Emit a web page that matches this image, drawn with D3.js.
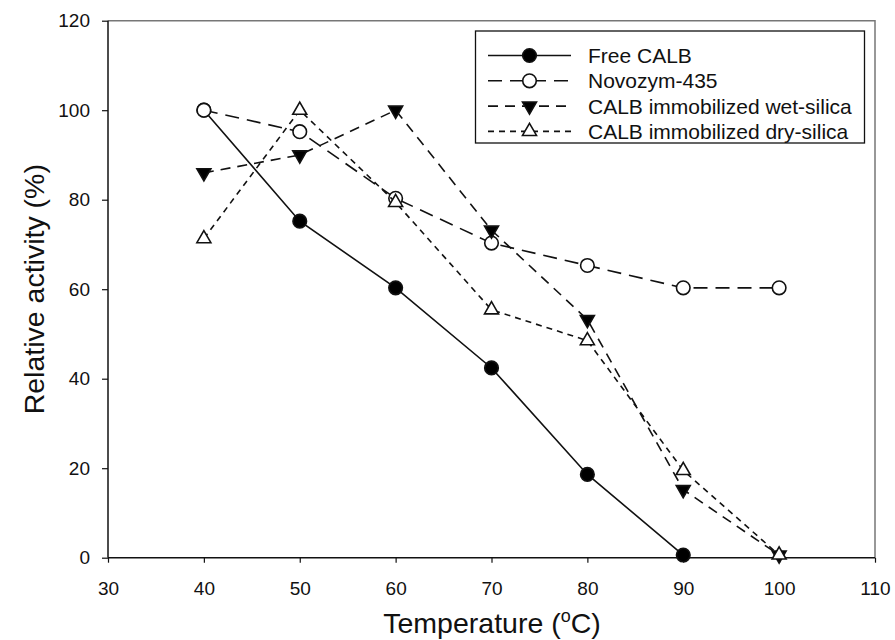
<!DOCTYPE html>
<html>
<head>
<meta charset="utf-8">
<script src="https://cdn.jsdelivr.net/npm/d3@7"></script>
<style>
  body { margin: 0; background: #fff; }
  svg text { font-family: "Liberation Sans", Arial, sans-serif; fill: #111; }
</style>
</head>
<body>
<div id="chart"></div>
<script>
// temperatures (C)
var temps = [40, 50, 60, 70, 80, 90, 100];

// relative activity (%) per series
var freeCalb = [100, 75.2, 60.3, 42.4, 18.6, 0.6];
var novozym  = [100, 95.2, 80.3, 70.3, 65.3, 60.3, 60.3];
var wetSilica = [86, 90, 100, 73.2, 53.2, 15.2, 0.6];
var drySilica = [71.3, 100, 79.4, 55.4, 48.5, 19.5, 0.6];

var seriesNames = ["Free CALB", "Novozym-435", "CALB immobilized wet-silica", "CALB immobilized dry-silica"];
var xTicks = [30, 40, 50, 60, 70, 80, 90, 100, 110];
var yTicks = [0, 20, 40, 60, 80, 100, 120];

var series = [
  { name: seriesNames[0], values: freeCalb,  dash: null,    shape: d3.symbolCircle,   fill: "#000", rot: 0 },
  { name: seriesNames[1], values: novozym,   dash: "14,8",  shape: d3.symbolCircle,   fill: "#fff", rot: 0 },
  { name: seriesNames[2], values: wetSilica, dash: "10,7",  shape: d3.symbolTriangle, fill: "#000", rot: 180 },
  { name: seriesNames[3], values: drySilica, dash: "6,5",   shape: d3.symbolTriangle, fill: "#fff", rot: 0 }
];

var width = 895, height = 640;
var pLeft = 108, pRight = 875, pTop = 20.7, pBottom = 557.7;

var svg = d3.select("#chart").append("svg")
  .attr("width", width)
  .attr("height", height)

var x = d3.scaleLinear().domain([30, 110]).range([pLeft, pRight]);
var y = d3.scaleLinear().domain([0, 120]).range([pBottom, pTop]);

// frame: top/right grey
svg.append("path")
  .attr("d", "M" + pLeft + "," + pTop + "H" + pRight + "V" + pBottom)
  .attr("fill", "none")
  .attr("stroke", "#777")
  .attr("stroke-width", 1.5)

var xAxis = svg.append("g")
  .attr("transform", "translate(0," + pBottom + ")")
  .call(d3.axisBottom(x).tickValues(xTicks).tickSize(5).tickPadding(19).tickFormat(d3.format("d")))
var yAxis = svg.append("g")
  .attr("transform", "translate(" + pLeft + ",0)")
  .call(d3.axisLeft(y).tickValues(yTicks).tickSize(6).tickPadding(12).tickFormat(d3.format("d")))

xAxis.select(".domain").attr("d", "M" + pLeft + ",0H" + pRight)
yAxis.select(".domain").attr("d", "M0," + pTop + "V" + pBottom)
svg.selectAll(".domain").attr("stroke", "#111").attr("stroke-width", 1.5)
svg.selectAll(".tick line").attr("stroke", "#111").attr("stroke-width", 1.2)
svg.selectAll(".tick text").attr("font-size", "19px").attr("fill", "#111")

// axis titles
var xt = svg.append("text")
  .attr("x", (pLeft + pRight) / 2 + 0.5)
  .attr("y", 633)
  .attr("text-anchor", "middle")
  .attr("font-size", "28.5px")
xt.append("tspan").text("Temperature (")
xt.append("tspan").text("o").attr("font-size", "18px").attr("dy", "-11")
xt.append("tspan").text("C)").attr("dy", "11")

svg.append("text")
  .attr("transform", "translate(44," + ((pTop + pBottom) / 2) + ") rotate(-90)")
  .attr("text-anchor", "middle")
  .attr("font-size", "28.5px")
  .text("Relative activity (%)")

var line = d3.line()
  .x(function(d, i) { return x(temps[i]); })
  .y(function(d) { return y(d); })

function symbolPath(s) {
  var size = s.shape === d3.symbolCircle ? 145 : 85;
  return d3.symbol().type(s.shape).size(size)();
}

series.forEach(function(s) {
  svg.append("path")
    .attr("d", line(s.values))
    .attr("fill", "none")
    .attr("stroke", "#111")
    .attr("stroke-width", 1.6)
    .attr("stroke-dasharray", s.dash)

  svg.selectAll(null)
    .data(s.values)
    .enter()
      .append("path")
      .attr("d", symbolPath(s))
      .attr("transform", function(d, i) { return "translate(" + x(temps[i]) + "," + y(d) + ") rotate(" + s.rot + ")"; })
      .attr("fill", s.fill)
      .attr("stroke", "#111")
      .attr("stroke-width", 1.6)
});

// legend
svg.append("rect")
  .attr("x", 475.5).attr("y", 31)
  .attr("width", 389).attr("height", 112)
  .attr("fill", "#fff")
  .attr("stroke", "#111")
  .attr("stroke-width", 1.3)

var row = svg.append("g").selectAll("g")
  .data(series)
  .enter()
    .append("g")
    .attr("transform", function(d, i) { return "translate(0," + (55.5 + i * 25.3) + ")"; })

row.append("line")
  .attr("x1", 488).attr("x2", 571)
  .attr("stroke", "#111")
  .attr("stroke-width", 1.6)
  .attr("stroke-dasharray", function(d) { return d.dash; })
row.append("path")
  .attr("d", function(d) { return symbolPath(d); })
  .attr("transform", function(d) { return "translate(529.5,0) rotate(" + d.rot + ")"; })
  .attr("fill", function(d) { return d.fill; })
  .attr("stroke", "#111")
  .attr("stroke-width", 1.6)
row.append("text")
  .attr("x", 588)
  .attr("dy", "0.36em")
  .attr("font-size", "21px")
  .text(function(d) { return d.name; })
</script>
</body>
</html>
